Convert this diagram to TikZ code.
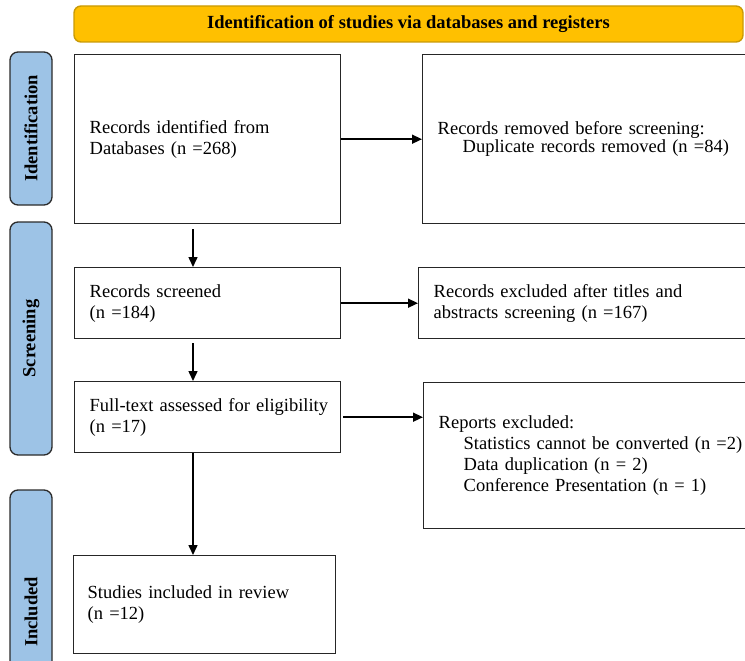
\documentclass[tikz,border=0pt]{standalone}
\usepackage{fontspec}
\setmainfont{Liberation Serif}
\usetikzlibrary{arrows.meta}
\definecolor{bannerfill}{HTML}{FFC000}
\definecolor{bannerline}{HTML}{C99A06}
\definecolor{labfill}{HTML}{9DC3E6}
\definecolor{labline}{HTML}{2B2B2B}
\definecolor{boxline}{HTML}{262626}
\begin{document}
\begin{tikzpicture}[x=1pt,y=-1pt,
  box/.style={draw=boxline, line width=1.4pt, fill=white, inner xsep=15pt, inner ysep=4pt,
    align=left, anchor=north west, font=\fontsize{18.5}{21}\selectfont},
  lab/.style={draw=labline, line width=1.3pt, fill=labfill, rounded corners=8pt, rotate=90,
    minimum height=42pt, inner sep=0pt, font=\bfseries\fontsize{18.5}{21}\selectfont},
  banner/.style={draw=bannerline, line width=1.4pt, fill=bannerfill, rounded corners=7pt,
    inner sep=0pt, font=\bfseries\fontsize{18.5}{21}\selectfont},
  arr/.style={line width=1.5pt, draw=black, -{Triangle[length=10pt,width=9pt]}}
]
\useasboundingbox (0,0) rectangle (745,661);
\clip (0,0) rectangle (745,661);

% banner
\node[banner, minimum width=669pt, minimum height=36pt] (ban) at (408.5,24) {Identification of studies via databases and registers};

% phase labels
\node[lab, minimum width=153pt] (lid) at (31,128.5) {Identification};
\node[lab, minimum width=233pt] (lsc) at (31,338.5) {Screening};
\node[lab, minimum width=244pt] (lin) at (31,612) {Included};

% left column
\node[box, text width=236pt, minimum height=169pt] (b1) at (74,54) {Records identified from\\Databases (n =268)};
\node[box, text width=236pt, minimum height=71pt] (b2) at (74,267) {Records screened\\(n =184)};
\node[box, text width=236pt, minimum height=71pt] (b3) at (74,381) {\mbox{Full-text assessed for eligibility}\\(n =17)};
\node[box, text width=234pt, minimum height=98pt, inner xsep=14pt] (b4) at (73,555) {Studies included in review\\(n =12)};

% right column
\node[box, text width=310pt, minimum height=169pt] (r1) at (422,54) {Records removed before screening:\\[-3pt]\hspace*{25pt}Duplicate records removed (n =84)\\[8pt]};
\node[box, text width=314pt, minimum height=71pt] (r2) at (418,267) {Records excluded after titles and\\abstracts screening (n =167)};
\node[box, text width=309pt, minimum height=146pt] (r3) at (423,382) {Reports excluded:\\\hspace*{25pt}Statistics cannot be converted (n =2)\\\hspace*{25pt}Data duplication (n = 2)\\\hspace*{25pt}Conference Presentation (n = 1)};

% connectors
\coordinate (ax) at (193,0);
\draw[arr, shorten <=5pt] (b1.south -| ax) -- (b2.north -| ax);
\draw[arr, shorten <=4pt] (b2.south -| ax) -- (b3.north -| ax);
\draw[arr] (b3.south -| ax) -- (b4.north -| ax);
\draw[arr] (b1.east) -- (b1.east -| r1.west);
\draw[arr] (b2.east) -- (b2.east -| r2.west);
\draw[arr, shorten <=2pt] (b3.east) -- (b3.east -| r3.west);
\end{tikzpicture}
\end{document}
